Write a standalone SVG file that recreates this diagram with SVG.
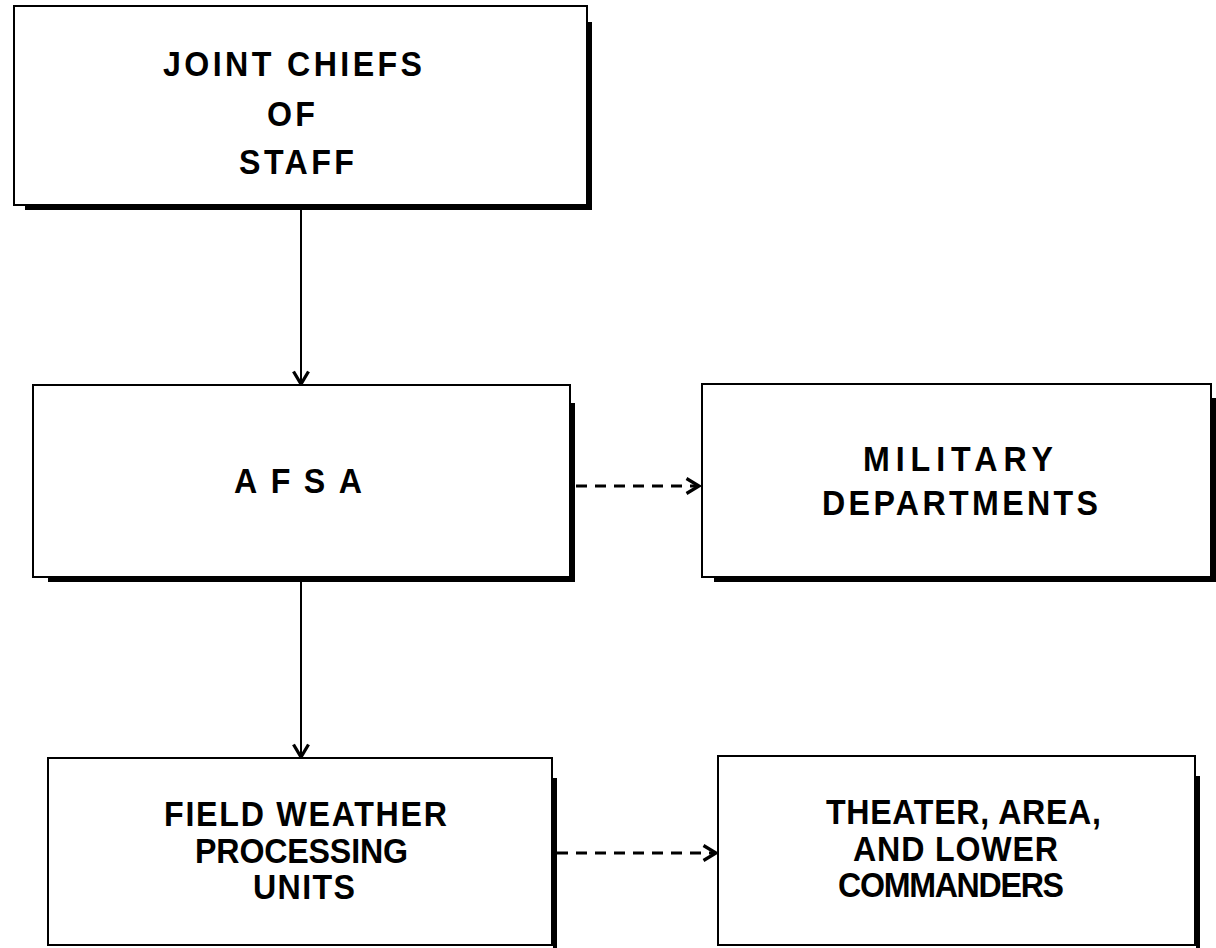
<svg xmlns="http://www.w3.org/2000/svg" width="1216" height="948" viewBox="0 0 1216 948">
<style>
.bg{fill:#fff}
.box{fill:#fff;stroke:#000;stroke-width:2}
.shadow{fill:none;stroke:#000;stroke-width:4}
.lbl{font-family:"Liberation Sans",Arial,sans-serif;font-weight:bold;font-size:35px;fill:#000}
.conn{fill:none;stroke:#000;stroke-width:2}
.dash{stroke-width:3;stroke-dasharray:11 8}
</style>
<defs>
<marker id="arr" markerUnits="userSpaceOnUse" markerWidth="20" markerHeight="20" viewBox="-12 -8 14 16" refX="0" refY="0" orient="auto">
<path d="M-10,-6 L0,0 L-10,6" fill="none" stroke="#000" stroke-width="2.6"/>
</marker>
</defs>
<rect class="bg" x="0" y="0" width="1216" height="948"/>
<g id="connectors">
<path class="conn" d="M301 209 V384" marker-end="url(#arr)"/>
<path class="conn" d="M301 581 V757" marker-end="url(#arr)"/>
<path class="conn dash" d="M576 486 H699" marker-end="url(#arr)"/>
<path class="conn dash" d="M557 853 H716" marker-end="url(#arr)"/>
</g>
<g id="jcs">
<rect class="box" x="14" y="6" width="573" height="199"/>
<path class="shadow" d="M25 208 H590 V22"/>
<g transform="scale(0.92 1)">
<text class="lbl" x="177.2" y="76" textLength="281.5" lengthAdjust="spacing">JOINT CHIEFS</text>
<text class="lbl" x="290.2" y="126" textLength="52" lengthAdjust="spacing">OF</text>
<text class="lbl" x="259.8" y="174" textLength="125" lengthAdjust="spacing">STAFF</text>
</g>
</g>
<g id="afsa">
<rect class="box" x="33" y="385" width="537" height="192"/>
<path class="shadow" d="M48 580 H573 V403"/>
<g transform="scale(0.92 1)">
<text class="lbl" x="254.3" y="493" textLength="139.1" lengthAdjust="spacing">AFSA</text>
</g>
</g>
<g id="mil">
<rect class="box" x="702" y="384" width="509" height="193"/>
<path class="shadow" d="M714 580 H1214 V398"/>
<g transform="scale(0.92 1)">
<text class="lbl" x="938" y="471" textLength="206.5" lengthAdjust="spacing">MILITARY</text>
<text class="lbl" x="893.5" y="515" textLength="300" lengthAdjust="spacing">DEPARTMENTS</text>
</g>
</g>
<g id="fwpu">
<rect class="box" x="48" y="758" width="504" height="187"/>
<path class="shadow" d="M555 778 V948"/>
<g transform="scale(0.92 1)">
<text class="lbl" x="178.3" y="826" textLength="307.6" lengthAdjust="spacing">FIELD WEATHER</text>
<text class="lbl" x="212" y="863" textLength="231.5" lengthAdjust="spacing">PROCESSING</text>
<text class="lbl" x="275" y="899" textLength="110.9" lengthAdjust="spacing">UNITS</text>
</g>
</g>
<g id="theater">
<rect class="box" x="718" y="756" width="477" height="189"/>
<path class="shadow" d="M1198 776 V948"/>
<g transform="scale(0.92 1)">
<text class="lbl" x="897.8" y="824" textLength="298.9" lengthAdjust="spacing">THEATER, AREA,</text>
<text class="lbl" x="927.2" y="861" textLength="222.8" lengthAdjust="spacing">AND LOWER</text>
<text class="lbl" x="910.9" y="897" textLength="245.7" lengthAdjust="spacing">COMMANDERS</text>
</g>
</g>
</svg>
